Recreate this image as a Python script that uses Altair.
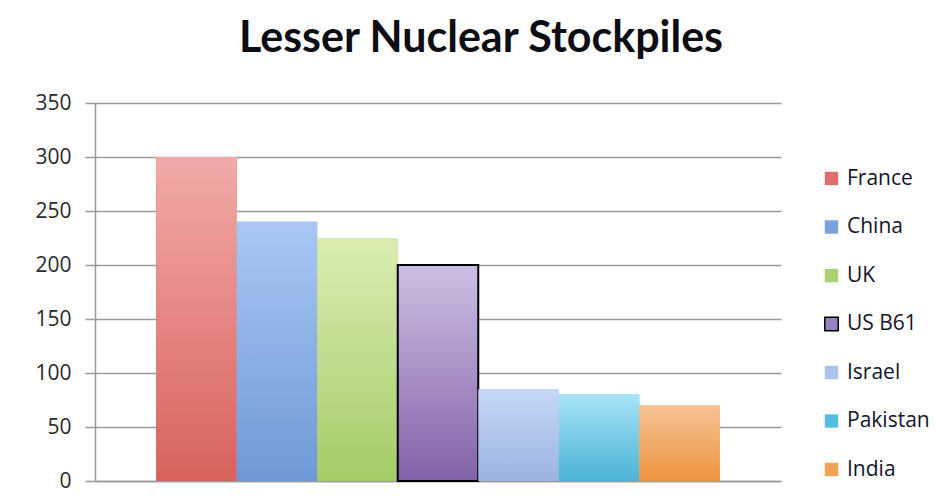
import altair as alt
import pandas as pd

countries = ["France", "China", "UK", "US B61", "Israel", "Pakistan", "India"]
warheads = [300, 240, 225, 200, 85, 80, 70]

top_colors = ["#f2aaa8", "#aac7f4", "#d9edb2", "#cdbfe4", "#c6d8f7", "#a8e3f7", "#f5c394"]
bottom_colors = ["#d8625c", "#6e99d6", "#a5cb66", "#8262a8", "#9cb3e0", "#4bb3d5", "#ee9440"]
legend_colors = ["#de6f6b", "#7aa2dc", "#abd173", "#9a82c2", "#aac3ec", "#55bddd", "#f0a257"]
stroke_colors = ["transparent", "transparent", "transparent", "#000000", "transparent", "transparent", "transparent"]

df = pd.DataFrame({"country": countries, "warheads": warheads})

base = alt.Chart(df).encode(
    x=alt.X(
        "country:N",
        sort=countries,
        scale=alt.Scale(paddingInner=0, paddingOuter=0.76),
        axis=alt.Axis(labels=False, ticks=False, title=None, domain=True,
                      domainColor="#9a9a9a", domainWidth=1.5, grid=False),
    ),
    y=alt.Y(
        "warheads:Q",
        scale=alt.Scale(domain=[0, 350], nice=False),
        axis=alt.Axis(values=[0, 50, 100, 150, 200, 250, 300, 350], title=None,
                      labelFont="Open Sans", labelFontSize=21, labelColor="#2a2a2a",
                      tickSize=10, tickColor="#9a9a9a", tickWidth=1.5,
                      domainColor="#9a9a9a", domainWidth=1.5,
                      gridColor="#9a9a9a", gridWidth=1.5, labelPadding=14),
    ),
)

legend = alt.Legend(title=None, orient="none", legendX=726, legendY=65,
                    symbolType="square", symbolSize=180, symbolStrokeWidth=1.5,
                    labelFont="Open Sans", labelFontSize=21, labelColor="#15152a",
                    rowPadding=26.5, labelOffset=5)

legend_layer = base.mark_bar().encode(
    fill=alt.Fill("country:N", sort=countries,
                  scale=alt.Scale(domain=countries, range=legend_colors), legend=legend),
    stroke=alt.Stroke("country:N", sort=countries,
                      scale=alt.Scale(domain=countries, range=stroke_colors), legend=legend),
)

layers = [legend_layer]
for c, t, b in zip(countries, top_colors, bottom_colors):
    grad = alt.Gradient(
        gradient="linear",
        stops=[alt.GradientStop(color=t, offset=0), alt.GradientStop(color=b, offset=1)],
        x1=0, x2=0, y1=0, y2=1,
    )
    is_us = c == "US B61"
    layers.append(
        base.transform_filter(alt.datum.country == c).mark_bar(
            fill=grad,
            stroke="#000000" if is_us else "transparent",
            strokeWidth=2 if is_us else 0,
        )
    )

chart = alt.layer(*layers).properties(
    width=686,
    height=378,
    autosize=alt.AutoSizeParams(type="none"),
    padding={"left": 87, "top": 95, "right": 150, "bottom": 12},
    title=alt.TitleParams("Lesser Nuclear Stockpiles", font="Lato", fontSize=43,
                          fontWeight="bold", color="#0d0d14", anchor="middle",
                          frame="group", baseline="alphabetic", offset=46, dx=43, dy=49),
).configure(background="white").configure_view(stroke=None)

chart.save("out.html", embed_options={"renderer": "svg", "actions": False})
